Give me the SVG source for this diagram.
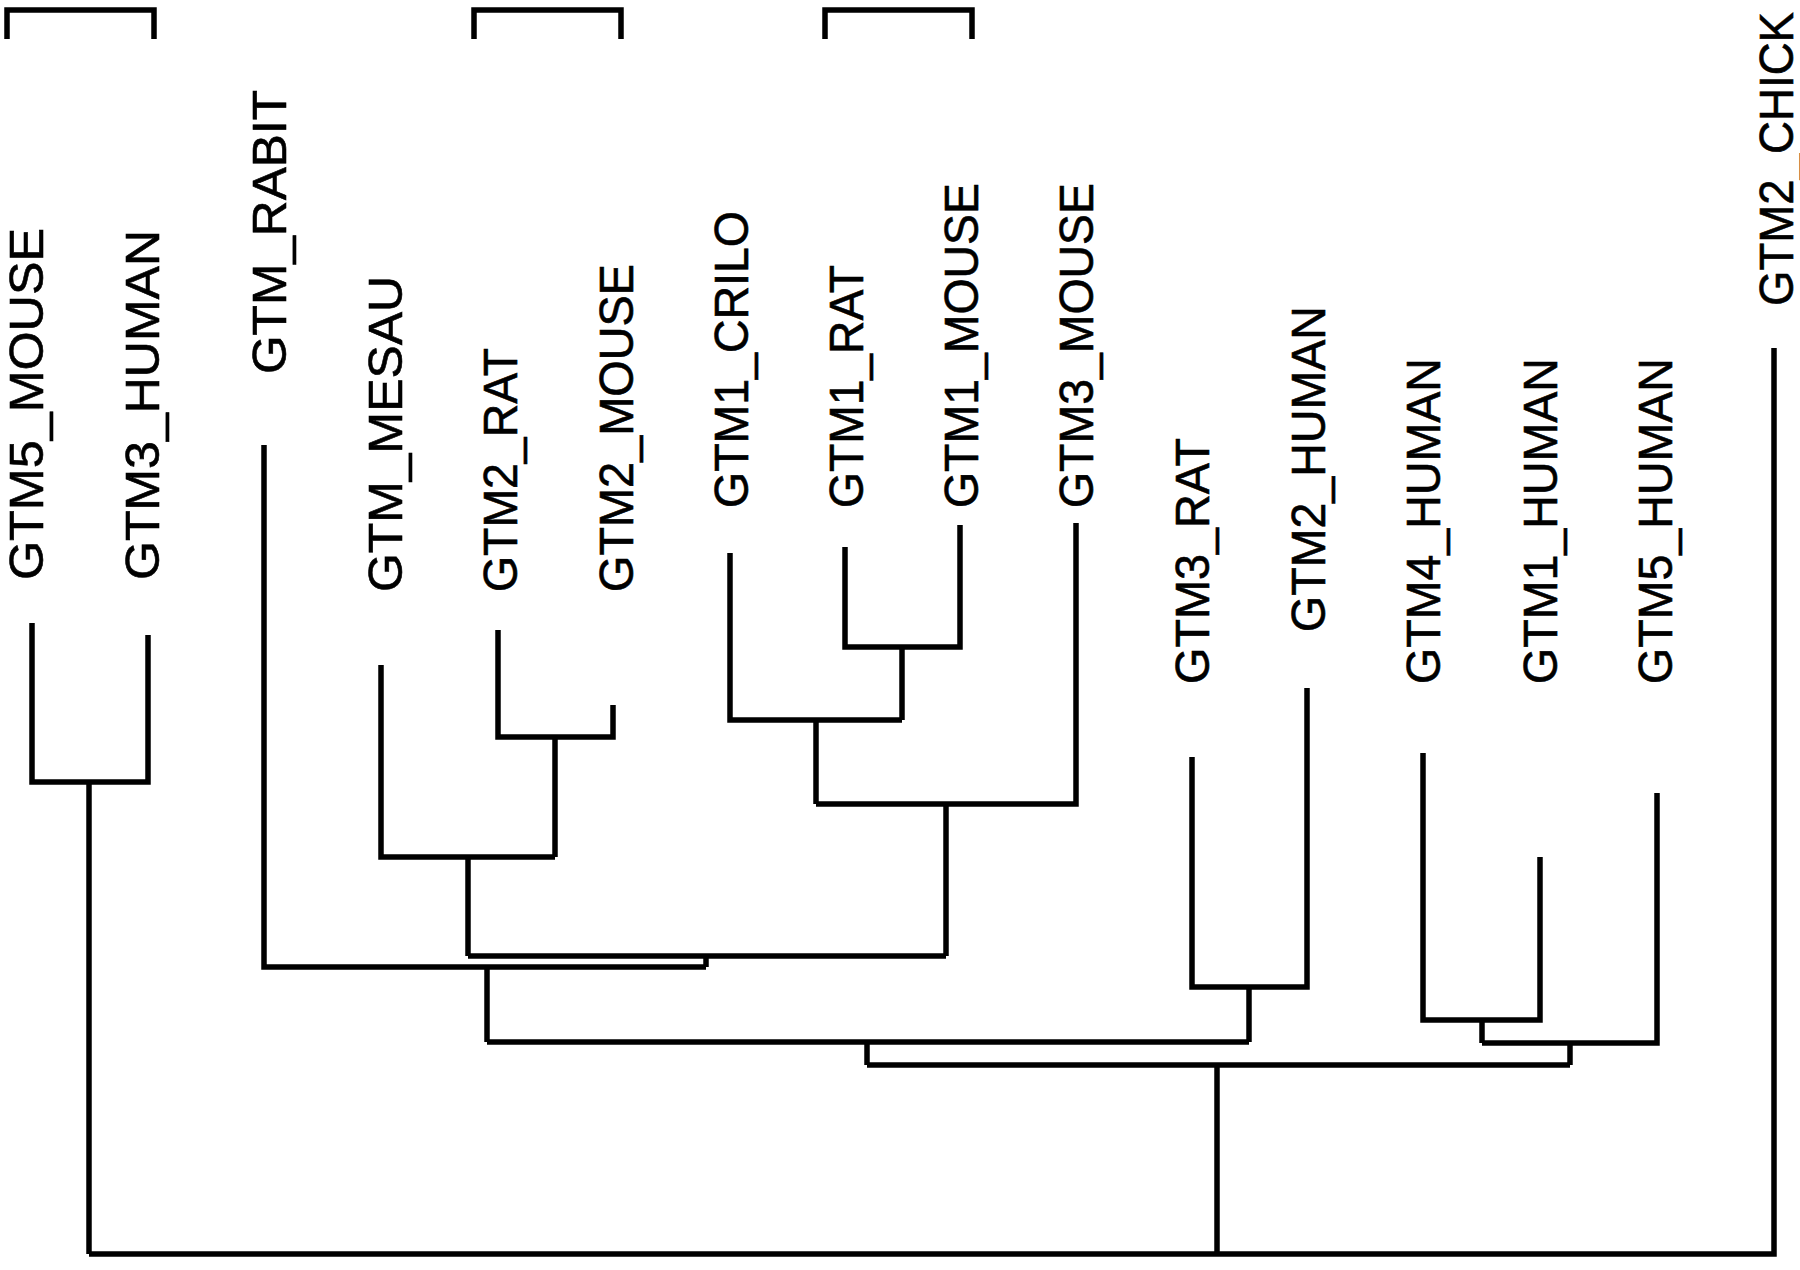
<svg xmlns="http://www.w3.org/2000/svg" width="1800" height="1270" viewBox="0 0 1800 1270">
<style>
.bg{fill:#ffffff}
.ln{fill:none;stroke:#000;stroke-width:5.5;stroke-linejoin:miter;stroke-linecap:butt}
.lb{font-family:"Liberation Sans",Arial,Helvetica,sans-serif;font-size:48px;fill:#000;stroke:#000;stroke-width:0.6}
</style>
<rect class="bg" x="0" y="0" width="1800" height="1270"/>
<g id="brackets">
<path class="ln" d="M7 39 V10 H154 V39"/>
<path class="ln" d="M474 39 V10 H621 V39"/>
<path class="ln" d="M825 39 V10 H972 V39"/>
</g>
<g id="connectors">
<path class="ln" d="M32 623 V782 H148 V635"/>
<path class="ln" d="M89 782 V1254"/>
<path class="ln" d="M89 1254 H1774 V348"/>
<path class="ln" d="M1217 1065 V1254"/>
<path class="ln" d="M498 630 V737 H613 V705"/>
<path class="ln" d="M555 737 V857"/>
<path class="ln" d="M381 665 V857 H555"/>
<path class="ln" d="M468 857 V956"/>
<path class="ln" d="M845 547 V647 H960 V525"/>
<path class="ln" d="M902 647 V720"/>
<path class="ln" d="M730 553 V720 H902"/>
<path class="ln" d="M816 720 V804"/>
<path class="ln" d="M816 804 H1076 V523"/>
<path class="ln" d="M946 804 V956"/>
<path class="ln" d="M468 956 H946"/>
<path class="ln" d="M706 956 V967"/>
<path class="ln" d="M264 445 V967 H706"/>
<path class="ln" d="M487 967 V1042"/>
<path class="ln" d="M1192 757 V987 H1307 V688"/>
<path class="ln" d="M1249 987 V1042"/>
<path class="ln" d="M487 1042 H1249"/>
<path class="ln" d="M867 1042 V1065"/>
<path class="ln" d="M1423 753 V1020 H1540 V857"/>
<path class="ln" d="M1482 1020 V1043"/>
<path class="ln" d="M1482 1043 H1657 V793"/>
<path class="ln" d="M1570 1043 V1065"/>
<path class="ln" d="M867 1065 H1570"/>
</g>
<g id="GTM5_MOUSE"><text class="lb" x="43" y="580" transform="rotate(-90 43 580)" textLength="352" lengthAdjust="spacingAndGlyphs">GTM5_MOUSE</text></g>
<g id="GTM3_HUMAN"><text class="lb" x="159" y="580" transform="rotate(-90 159 580)" textLength="350" lengthAdjust="spacingAndGlyphs">GTM3_HUMAN</text></g>
<g id="GTM_RABIT"><text class="lb" x="286" y="374" transform="rotate(-90 286 374)" textLength="284" lengthAdjust="spacingAndGlyphs">GTM_RABIT</text></g>
<g id="GTM_MESAU"><text class="lb" x="402" y="592" transform="rotate(-90 402 592)" textLength="316" lengthAdjust="spacingAndGlyphs">GTM_MESAU</text></g>
<g id="GTM2_RAT"><text class="lb" x="517" y="592" transform="rotate(-90 517 592)" textLength="244" lengthAdjust="spacingAndGlyphs">GTM2_RAT</text></g>
<g id="GTM2_MOUSE"><text class="lb" x="633" y="592" transform="rotate(-90 633 592)" textLength="328" lengthAdjust="spacingAndGlyphs">GTM2_MOUSE</text></g>
<g id="GTM1_CRILO"><text class="lb" x="748" y="508" transform="rotate(-90 748 508)" textLength="297" lengthAdjust="spacingAndGlyphs">GTM1_CRILO</text></g>
<g id="GTM1_RAT"><text class="lb" x="863" y="508" transform="rotate(-90 863 508)" textLength="243" lengthAdjust="spacingAndGlyphs">GTM1_RAT</text></g>
<g id="GTM1_MOUSE"><text class="lb" x="978" y="508" transform="rotate(-90 978 508)" textLength="325" lengthAdjust="spacingAndGlyphs">GTM1_MOUSE</text></g>
<g id="GTM3_MOUSE"><text class="lb" x="1093" y="508" transform="rotate(-90 1093 508)" textLength="325" lengthAdjust="spacingAndGlyphs">GTM3_MOUSE</text></g>
<g id="GTM3_RAT"><text class="lb" x="1209" y="684" transform="rotate(-90 1209 684)" textLength="246" lengthAdjust="spacingAndGlyphs">GTM3_RAT</text></g>
<g id="GTM2_HUMAN"><text class="lb" x="1325" y="632" transform="rotate(-90 1325 632)" textLength="326" lengthAdjust="spacingAndGlyphs">GTM2_HUMAN</text></g>
<g id="GTM4_HUMAN"><text class="lb" x="1440" y="684" transform="rotate(-90 1440 684)" textLength="326" lengthAdjust="spacingAndGlyphs">GTM4_HUMAN</text></g>
<g id="GTM1_HUMAN"><text class="lb" x="1557" y="684" transform="rotate(-90 1557 684)" textLength="326" lengthAdjust="spacingAndGlyphs">GTM1_HUMAN</text></g>
<g id="GTM5_HUMAN"><text class="lb" x="1672" y="684" transform="rotate(-90 1672 684)" textLength="326" lengthAdjust="spacingAndGlyphs">GTM5_HUMAN</text></g>
<g id="GTM2_CHICK"><text class="lb" x="1793" y="306" transform="rotate(-90 1793 306)" textLength="294" lengthAdjust="spacingAndGlyphs">GTM2_CHICK</text></g>
</svg>
